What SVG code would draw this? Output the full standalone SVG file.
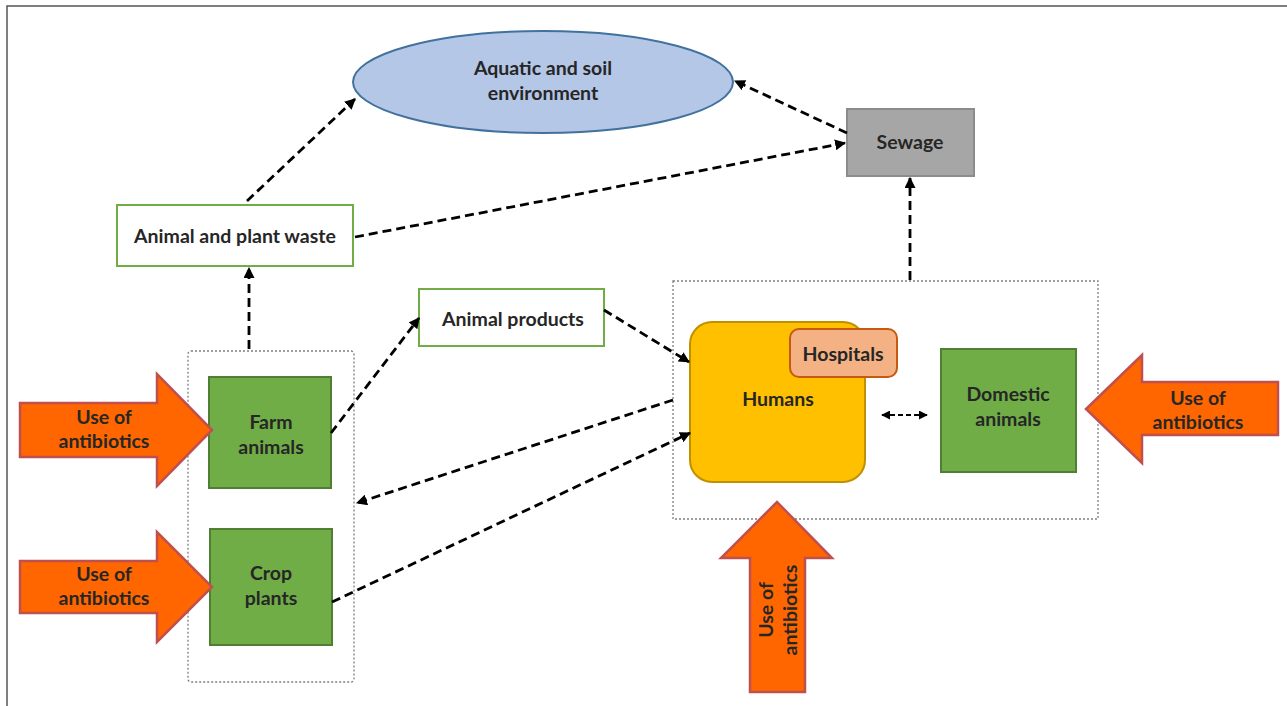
<svg xmlns="http://www.w3.org/2000/svg" width="1287" height="706" viewBox="0 0 1287 706">
<style>
  text { font-family: Lato, "Liberation Sans", sans-serif; font-weight: bold; font-size: 19.5px; fill: #262626; text-anchor: middle; dominant-baseline: central; }
  .green { fill: #70ad47; stroke: #507e32; stroke-width: 2; }
  .white { fill: #ffffff; stroke: #70ad47; stroke-width: 2; }
  .group { fill: none; stroke: #7f7f7f; stroke-width: 1.3; stroke-dasharray: 2 2; }
  .use { fill: #ff6600; stroke: #c0504d; stroke-width: 2.5; stroke-linejoin: miter; }
  .conn { fill: none; stroke: #000; stroke-width: 2.8; stroke-dasharray: 9 5; }
</style>
<defs>
  <marker id="ah" viewBox="0 0 10 10" refX="9" refY="5" markerWidth="11" markerHeight="11" markerUnits="userSpaceOnUse" orient="auto">
    <path d="M0,0 L10,5 L0,10 z" fill="#000"/>
  </marker>
  <marker id="ahs" viewBox="0 0 10 10" refX="9" refY="5" markerWidth="9" markerHeight="9" markerUnits="userSpaceOnUse" orient="auto-start-reverse">
    <path d="M0,0 L10,5 L0,10 z" fill="#000"/>
  </marker>
</defs>
<rect x="0" y="0" width="1287" height="706" fill="#fff"/>
<rect x="7" y="6" width="1290" height="720" fill="none" stroke="#555" stroke-width="1.5"/>

<g id="env">
  <ellipse cx="543" cy="82" rx="190" ry="51" fill="#b4c7e7" stroke="#41719c" stroke-width="2"/>
  <text x="543" y="67">Aquatic and soil</text>
  <text x="543" y="92">environment</text>
</g>
<g id="sewage">
  <rect x="847" y="109" width="127" height="67" fill="#a6a6a6" stroke="#8c8c8c" stroke-width="2"/>
  <text x="910" y="141">Sewage</text>
</g>
<g id="waste">
  <rect x="117" y="205" width="236" height="61" class="white"/>
  <text x="235" y="235">Animal and plant waste</text>
</g>
<g id="products">
  <rect x="419" y="289" width="185" height="57" class="white"/>
  <text x="513" y="318">Animal products</text>
</g>
<g id="farm-group">
  <rect x="188" y="351" width="166" height="331" rx="3" class="group"/>
</g>
<g id="farm">
  <rect x="209" y="377" width="122" height="111" class="green"/>
  <text x="271" y="421">Farm</text>
  <text x="271" y="446">animals</text>
</g>
<g id="crop">
  <rect x="210" y="529" width="122" height="116" class="green"/>
  <text x="271" y="572">Crop</text>
  <text x="271" y="597">plants</text>
</g>
<g id="human-group">
  <rect x="673" y="281" width="425" height="238" class="group"/>
</g>
<g id="humans">
  <rect x="690" y="322" width="175" height="160" rx="22" fill="#ffc000" stroke="#bf9000" stroke-width="2"/>
  <text x="778" y="398">Humans</text>
</g>
<g id="hospitals">
  <rect x="790" y="329" width="107" height="48" rx="9" fill="#f4b183" stroke="#c55a11" stroke-width="2"/>
  <text x="843" y="353">Hospitals</text>
</g>
<g id="domestic">
  <rect x="941" y="349" width="135" height="123" class="green"/>
  <text x="1008" y="393">Domestic</text>
  <text x="1008" y="418">animals</text>
</g>

<g id="use-farm">
  <path d="M20,403 H157 V374 L212,430 L157,486 V457 H20 Z" class="use"/>
  <text x="104" y="416">Use of</text>
  <text x="104" y="440">antibiotics</text>
</g>
<g id="use-crop">
  <path d="M20,561 H157 V532 L212,587 L157,642 V613 H20 Z" class="use"/>
  <text x="104" y="573">Use of</text>
  <text x="104" y="597">antibiotics</text>
</g>
<g id="use-domestic">
  <path d="M1278,382 H1142 V355 L1086,409 L1142,463 V435 H1278 Z" class="use"/>
  <text x="1198" y="397">Use of</text>
  <text x="1198" y="421">antibiotics</text>
</g>
<g id="use-humans">
  <path d="M750,692 V558 H721 L777,502 L832,558 H805 V692 Z" class="use"/>
  <text transform="translate(765,610) rotate(-90)" x="0" y="0">Use of</text>
  <text transform="translate(789,610) rotate(-90)" x="0" y="0">antibiotics</text>
</g>

<g id="connectors">
  <path class="conn" d="M247,201 L355,99" marker-end="url(#ah)"/>
  <path class="conn" d="M355,237 L845,143" marker-end="url(#ah)"/>
  <path class="conn" d="M847,133 L735,81" marker-end="url(#ah)"/>
  <path class="conn" d="M910,280 L910,178" marker-end="url(#ah)"/>
  <path class="conn" d="M249,349 L249,268" marker-end="url(#ah)"/>
  <path class="conn" d="M331,433 L419,318" marker-end="url(#ah)"/>
  <path class="conn" d="M604,310 L689,362" marker-end="url(#ah)"/>
  <path class="conn" d="M673,400 L357,503" marker-end="url(#ah)"/>
  <path class="conn" d="M332,602 L690,433" marker-end="url(#ah)"/>
  <path d="M882,415 L927,415" fill="none" stroke="#000" stroke-width="1.8" stroke-dasharray="5 3" marker-start="url(#ahs)" marker-end="url(#ahs)"/>
</g>
</svg>
